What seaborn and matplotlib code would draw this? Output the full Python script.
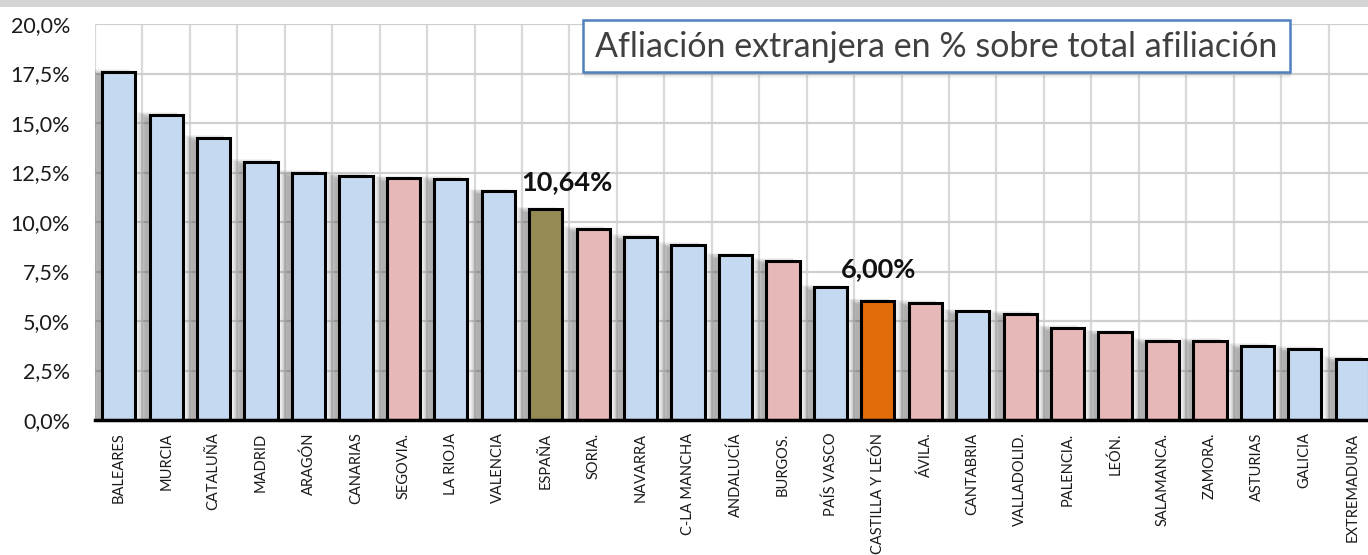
import matplotlib
matplotlib.use("Agg")
import matplotlib.pyplot as plt
import matplotlib.patches as mpatches
import seaborn as sns
import pandas as pd

categories = ["BALEARES", "MURCIA", "CATALUÑA", "MADRID", "ARAGÓN", "CANARIAS",
              "SEGOVIA.", "LA RIOJA", "VALENCIA", "ESPAÑA", "SORIA.", "NAVARRA",
              "C-LA MANCHA", "ANDALUCÍA", "BURGOS.", "PAÍS VASCO", "CASTILLA Y LEÓN",
              "ÁVILA.", "CANTABRIA", "VALLADOLID.", "PALENCIA.", "LEÓN.",
              "SALAMANCA.", "ZAMORA.", "ASTURIAS", "GALICIA", "EXTREMADURA"]
values = [17.58, 15.42, 14.26, 13.05, 12.49, 12.34, 12.20, 12.19, 11.55, 10.64,
          9.66, 9.24, 8.85, 8.31, 8.04, 6.70, 6.00, 5.91, 5.49, 5.37, 4.67, 4.43,
          4.01, 4.01, 3.74, 3.61, 3.09]
groups = ["ccaa", "ccaa", "ccaa", "ccaa", "ccaa", "ccaa", "prov", "ccaa", "ccaa",
          "esp", "prov", "ccaa", "ccaa", "ccaa", "prov", "ccaa", "cyl", "prov",
          "ccaa", "prov", "prov", "prov", "prov", "prov", "ccaa", "ccaa", "ccaa"]
group_colors = {"ccaa": "#C5D9F1", "prov": "#E6B8B7", "esp": "#948A54", "cyl": "#E26B0A"}
highlight = ["ESPAÑA", "CASTILLA Y LEÓN"]
title = "Afliación extranjera en % sobre total afiliación"
yticks = [0, 2.5, 5, 7.5, 10, 12.5, 15, 17.5, 20]

df = pd.DataFrame({"cat": categories, "val": values, "grp": groups})
palette = {c: group_colors[g] for c, g in zip(categories, groups)}

sns.set_style("white")
plt.rcParams["font.family"] = ["Lato", "DejaVu Sans"]

fig = plt.figure(figsize=(13.68, 5.55), dpi=100)
ax = fig.add_axes([95 / 1368, 135 / 555, 1281 / 1368, 396 / 555])

# grid
ax.set_axisbelow(True)
for k in range(len(categories) + 1):
    ax.axvline(k - 0.5, color="#D9D9D9", lw=1.6, zorder=0)
for t in yticks:
    ax.axhline(t, color="#CFCFCF", lw=1.6, zorder=0)

# soft shadows (Excel outer shadow), offset to the left and blurred
pos = list(range(len(categories)))
for k in range(8):
    ax.bar([p - 0.12 - 0.01 * k for p in pos], [v - 0.15 + 0.04 * k for v in values],
           width=0.66 + 0.025 * k, color="#4d4d4d", alpha=0.065, lw=0, zorder=1)

sns.barplot(data=df, x="cat", y="val", hue="cat", palette=palette, legend=False,
            width=0.70, edgecolor="black", linewidth=2.2, saturation=1, ax=ax, zorder=3)

ax.set_xlim(-0.5, len(categories) - 0.5)
ax.set_ylim(0, 20)
ax.set_yticks(yticks)
ax.set_yticklabels([f"{t:.1f}".replace(".", ",") + "%" for t in yticks],
                   fontsize=15.5, color="#1a1a1a")
ax.set_xticks(pos)
ax.set_xticklabels(categories, rotation=90, fontsize=10.5, color="#1a1a1a", va="top")
ax.set_xlabel("")
ax.set_ylabel("")
ax.tick_params(axis="y", length=0, pad=18)
ax.tick_params(axis="x", length=0, pad=9)
ax.set_xticks([k - 0.5 for k in range(len(categories) + 1)], minor=True)
ax.tick_params(axis="x", which="minor", length=5, width=2, color="black", direction="out")

for s in ["top", "right", "left"]:
    ax.spines[s].set_visible(False)
ax.spines["bottom"].set_color("black")
ax.spines["bottom"].set_linewidth(2.5)
ax.spines["bottom"].set_zorder(5)

# value labels
offsets = {"ESPAÑA": (0.44, 0.98), "CASTILLA Y LEÓN": (0.02, 1.22)}
for name in highlight:
    i = categories.index(name)
    v = values[i]
    dx, dy = offsets[name]
    ax.text(i + dx, v + dy, f"{v:.2f}".replace(".", ",") + "%", ha="center",
            va="baseline", fontsize=19.5, fontweight="bold", color="#111111", zorder=6)

# title box
bx, by, bw, bh = 583 / 1368, (555 - 72) / 555, 707 / 1368, 52 / 555
for k in range(4):
    fig.patches.append(mpatches.Rectangle((bx + 0.001, by - 0.004 - 0.002 * k), bw, bh,
                                          transform=fig.transFigure, facecolor="#666666",
                                          alpha=0.08, lw=0, zorder=7))
fig.patches.append(mpatches.Rectangle((bx, by), bw, bh, transform=fig.transFigure,
                                      facecolor="white", edgecolor="#4F81BD", lw=1.8,
                                      zorder=8))
fig.text(bx + bw / 2, by + bh / 2 - 0.002, title, ha="center", va="center", fontsize=24.5,
         color="#404040", zorder=9)

# top window border
fig.patches.append(mpatches.Rectangle((0, 1 - 7 / 555), 1, 7 / 555, transform=fig.transFigure,
                                      facecolor="#D4D4D4", lw=0, zorder=1))

fig.savefig("out.png", dpi=100)
